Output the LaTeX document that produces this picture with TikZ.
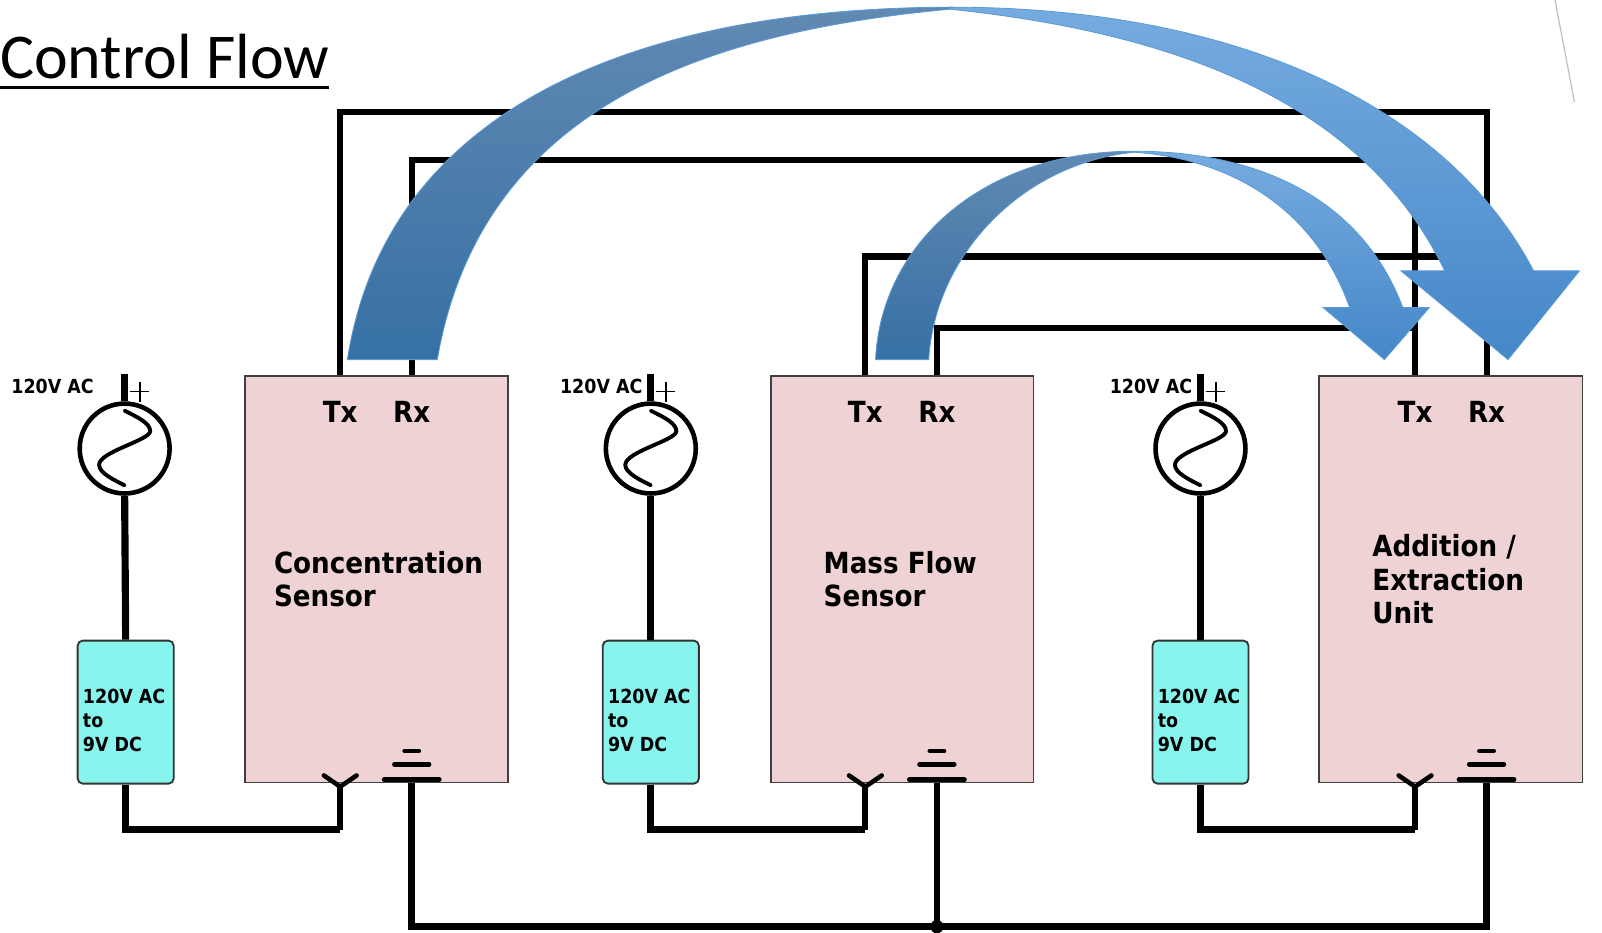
\documentclass[tikz,border=0pt]{standalone}
\usepackage{fontspec}
\setmainfont{Carlito}
\font\labbig="DejaVu Sans Condensed/B" at 28.5pt
\font\labsmall="DejaVu Sans Condensed/B" at 19pt
\definecolor{boxpink}{HTML}{EFD2D3}
\definecolor{boxcyan}{HTML}{88F4EE}
\definecolor{arrowdt}{HTML}{6189B3}
\definecolor{arrowdb}{HTML}{3670A3}
\definecolor{arrowlt}{HTML}{76ABE0}
\definecolor{arrowlb}{HTML}{4587C8}
\definecolor{arrowedge}{HTML}{5B9BD5}
\tikzset{
  wire/.style={line width=6pt,black,line cap=butt,line join=miter},
  srcwire/.style={wire,line width=7pt},
  unitbox/.style={draw=black!75,line width=1.6pt,fill=boxpink,minimum width=257pt,minimum height=398pt,inner sep=0pt},
  convbox/.style={draw=black!80,line width=1.8pt,fill=boxcyan,rounded corners=5pt,minimum width=94pt,minimum height=140pt,inner sep=0pt},
  srcnode/.style={circle,draw=black,line width=4.5pt,fill=white,minimum size=88pt,inner sep=0pt},
  pinlabel/.style={font=\labbig,inner sep=0pt},
  unitname/.style={font=\labbig\baselineskip 32.5pt\relax,inner sep=0pt,align=left,anchor=west},
  smalllabel/.style={font=\labsmall\baselineskip 23.5pt\relax,inner sep=0pt,align=left,anchor=west},
  plusmark/.style={line width=1.4pt,black},
  symline/.style={line width=4.5pt,black,line cap=round},
  arrowdark/.style={draw=arrowedge,line width=0.8pt,top color=arrowdt,bottom color=arrowdb},
  arrowlight/.style={draw=arrowedge,line width=0.8pt,top color=arrowlt,bottom color=arrowlb},
}
\begin{document}
\begin{tikzpicture}[x=1pt,y=-1pt]
\useasboundingbox (0,0) rectangle (1568,913);
\coordinate (tx1) at (333,368); \coordinate (rx1) at (403,368);
\coordinate (tx2) at (847,368); \coordinate (rx2) at (917,368);
\coordinate (tx3) at (1385,368); \coordinate (rx3) at (1455,368);
\coordinate (py1) at (333,770); \coordinate (gd1) at (403,763);
\coordinate (py2) at (847,770); \coordinate (gd2) at (917,763);
\coordinate (py3) at (1385,770); \coordinate (gd3) at (1455,763);
\coordinate (hub) at (917,907);
\coordinate (top1) at (122,366); \coordinate (top2) at (637,366); \coordinate (top3) at (1175,366);
\coordinate (run) at (0,812);
% title
\node[inner sep=0pt,anchor=base west,font=\fontsize{62.5}{62.5}\selectfont] (title) at (0,77) {Control Flow};
\draw[line width=3.6pt] (0,85.5) -- (322,85.5);
% faint artefact top right
\draw[line width=1.2pt,black!25] (1522,0) -- (1541,100);
% wires
\draw[wire] (tx1) -- (333,110) -- (1455,110) -- (rx3);
\draw[wire] (rx1) -- (403,157) -- (1385,157) -- (tx3);
\draw[wire] (tx2) -- (847,251) -- (1455,251);
\draw[wire] (rx2) -- (917,321) -- (1385,321);
% sources, converters
\node[srcnode] (s1) at (122,439) {}; \node[srcnode] (s2) at (637,439) {}; \node[srcnode] (s3) at (1175,439) {};
\node[convbox] (c1) at (123,697) {}; \node[convbox] (c2) at (637,697) {}; \node[convbox] (c3) at (1175,697) {};
\foreach \i in {1,2,3}{
  \draw[srcwire] (top\i) -- (s\i.north);
  \draw[srcwire] (s\i.south) -- (c\i.north);
  \draw[srcwire] (c\i.south) -- (c\i.south |- run) -- (py\i |- run);
  \draw[wire] (py\i |- run) -- (py\i);
  \begin{scope}[shift={(s\i.center)}]
    \draw[line width=3.8pt,line cap=round,black] (0,-37)
      .. controls (12,-31) and (25,-25) .. (25,-17)
      .. controls (25,-8) and (-25,3) .. (-25,16)
      .. controls (-25,24) and (-10,31) .. (0,36);
    \draw[plusmark] (5,-56) -- (24,-56);
    \draw[plusmark] (15,-65) -- (15,-46);
  \end{scope}
}
% ground bus
\draw[srcwire] (gd1) -- (403,907) -- (1455,907) -- (gd3);
\draw[wire] (gd2) -- (hub);
\fill (hub) circle (6.5pt);
% units
\node[unitbox] (u1) at (368.5,567) {};
\node[unitbox] (u2) at (883,567) {};
\node[unitbox,minimum width=258pt] (u3) at (1420,567) {};
\foreach \i in {1,2,3}{
  \draw[symline,line cap=butt] (py\i) -- ++(0,12);
  \draw[symline] ([shift={(-16,-11)}]py\i) -- (py\i) -- ([shift={(16,-11)}]py\i);
  \draw[symline] ([shift={(-27,0)}]gd\i) -- ([shift={(27,0)}]gd\i);
  \draw[symline] ([shift={(-17,-15)}]gd\i) -- ([shift={(17,-15)}]gd\i);
  \draw[symline] ([shift={(-7,-28)}]gd\i) -- ([shift={(7,-28)}]gd\i);
  \node[pinlabel] (tl\i) at ([yshift=-35pt]tx\i) {Tx};
  \node[pinlabel] (rl\i) at ([yshift=-35pt]rx\i) {Rx};
}
% unit names
\node[unitname] (n1) at (268,567) {Concentration\\Sensor};
\node[unitname] (n2) at (806,567) {Mass Flow\\Sensor};
\node[unitname] (n3) at (1343,567) {Addition /\\Extraction\\Unit};
% small labels
\node[smalllabel] (a1) at (11,378) {120V AC};
\node[smalllabel] (a2) at (548,378) {120V AC};
\node[smalllabel] (a3) at (1086,378) {120V AC};
\node[smalllabel] (d1) at (81,705) {120V AC\\to\\9V DC};
\node[smalllabel] (d2) at (595,705) {120V AC\\to\\9V DC};
\node[smalllabel] (d3) at (1133,705) {120V AC\\to\\9V DC};
% big arrow
\shade[arrowlight] (930,7) .. controls (1221,7) and (1420,110) .. (1501,265) -- (1546,265) -- (1476,352) -- (1371,265) -- (1414,265) .. controls (1330,90) and (1130,30) .. (930,9) -- cycle;
\shade[arrowdark] (340,352) .. controls (375,125) and (590,8) .. (930,7) -- (930,9) .. controls (680,32) and (470,110) .. (428,352) -- cycle;
% small arrow
\shade[arrowlight] (1110,148) .. controls (1240,148) and (1335,200) .. (1373,301) -- (1399,301) -- (1355,352) -- (1295,301) -- (1321,301) .. controls (1285,200) and (1200,155) .. (1110,149) -- cycle;
\shade[arrowdark] (857,352) .. controls (862,240) and (960,148) .. (1110,148) -- (1110,149) .. controls (1000,160) and (915,250) .. (909,352) -- cycle;
\end{tikzpicture}
\end{document}
